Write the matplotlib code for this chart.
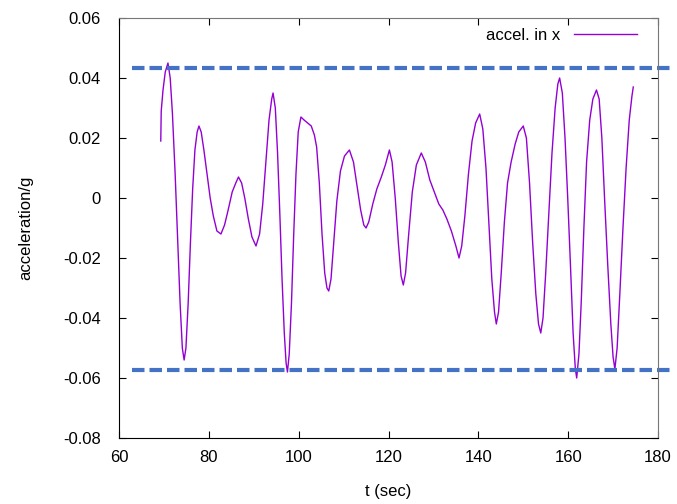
import matplotlib.pyplot as plt

plt.rcParams['font.family'] = ['Liberation Sans', 'DejaVu Sans']

# acceleration trace (time in s, acceleration in g)
t = [69.3, 69.4, 69.8, 70.3, 70.9, 71.4, 71.9, 72.5, 73.1, 73.6, 74.1, 74.5,
     74.9, 75.4, 75.9, 76.4, 76.9, 77.4, 77.8, 78.3, 78.9, 79.6, 80.3, 81.0,
     81.8, 82.7, 83.5, 84.3, 85.2, 86.0, 86.6, 87.3, 88.0, 88.8, 89.6, 90.5,
     91.3, 92.0, 92.7, 93.4, 94.0, 94.3, 94.8, 95.3, 95.8, 96.3, 96.8, 97.2,
     97.5, 97.9, 98.4, 98.9, 99.4, 99.9, 100.5, 101.2, 102.0, 102.8, 103.5,
     104.0, 104.6, 105.2, 105.8, 106.3, 106.7, 107.2, 107.8, 108.5, 109.3,
     110.2, 111.3, 112.2, 113.0, 113.8, 114.5, 115.0, 115.6, 116.5, 117.4,
     118.4, 119.3, 120.2, 120.8, 121.5, 122.2, 122.8, 123.3, 123.8, 124.5,
     125.3, 126.2, 127.3, 128.2, 129.2, 130.2, 131.2, 132.1, 133.0, 134.0,
     135.0, 135.7, 136.3, 137.0, 137.8, 138.6, 139.4, 140.3, 141.0, 141.7,
     142.4, 143.0, 143.6, 144.0, 144.5, 145.1, 145.8, 146.5, 147.3, 148.2,
     149.0, 150.0, 150.7, 151.4, 152.1, 152.8, 153.4, 153.9, 154.4, 155.0,
     155.7, 156.4, 157.1, 157.7, 158.1, 158.7, 159.3, 159.9, 160.5, 161.1,
     161.6, 161.9, 162.4, 162.9, 163.5, 164.1, 164.8, 165.5, 166.3, 166.9,
     167.5, 168.1, 168.8, 169.5, 170.0, 170.4, 170.9, 171.5, 172.2, 172.9,
     173.6, 174.2, 174.5]
accel = [0.019, 0.029, 0.036, 0.042, 0.045, 0.040, 0.028, 0.008, -0.015, -0.035, -0.050, -0.054,
         -0.050, -0.035, -0.015, 0.003, 0.016, 0.022, 0.024, 0.022, 0.016, 0.008, 0.000, -0.006,
         -0.011, -0.012, -0.009, -0.004, 0.002, 0.005, 0.007, 0.005, 0.000, -0.007, -0.013, -0.016,
         -0.012, -0.002, 0.012, 0.026, 0.033, 0.035, 0.030, 0.015, -0.005, -0.027, -0.045, -0.055,
         -0.058, -0.052, -0.035, -0.012, 0.008, 0.022, 0.027, 0.026, 0.025, 0.024, 0.021,
         0.017, 0.005, -0.012, -0.025, -0.030, -0.031, -0.027, -0.015, -0.001, 0.009,
         0.014, 0.016, 0.012, 0.004, -0.004, -0.009, -0.010, -0.008, -0.002, 0.003,
         0.007, 0.011, 0.016, 0.012, 0.000, -0.015, -0.026, -0.029, -0.025, -0.012,
         0.002, 0.011, 0.015, 0.012, 0.006, 0.002, -0.002, -0.004, -0.007, -0.011,
         -0.016, -0.020, -0.016, -0.006, 0.008, 0.019, 0.025, 0.028, 0.023, 0.010,
         -0.010, -0.027, -0.038, -0.042, -0.038, -0.025, -0.008, 0.005, 0.012, 0.018,
         0.022, 0.024, 0.020, 0.005, -0.015, -0.032, -0.042, -0.045, -0.040, -0.025,
         -0.005, 0.015, 0.030, 0.038, 0.040, 0.035, 0.020, 0.000, -0.022, -0.045,
         -0.057, -0.060, -0.052, -0.035, -0.010, 0.012, 0.026, 0.033, 0.036, 0.033,
         0.020, 0.000, -0.022, -0.042, -0.053, -0.057, -0.050, -0.032, -0.010, 0.010,
         0.026, 0.034, 0.037]

# limit lines
upper_limit = 0.0432
lower_limit = -0.0572
limit_span = [62.9, 182.6]

xticks = [60, 80, 100, 120, 140, 160, 180]
yticks = [-0.08, -0.06, -0.04, -0.02, 0, 0.02, 0.04, 0.06]
ytick_labels = ['-0.08', '-0.06', '-0.04', '-0.02', '0', '0.02', '0.04', '0.06']

fig = plt.figure(figsize=(6.77, 5.04), dpi=100)
ax = fig.add_axes([119 / 677, 66 / 504, 539 / 677, 420 / 504])

ax.plot(t, accel, color='#9400d3', linewidth=1.0, label='accel. in x')
for level in (upper_limit, lower_limit):
    ax.plot(limit_span, [level, level], color='#4472c4', linewidth=3,
            dashes=(3, 1.2), clip_on=False)

ax.set_xlim(60, 180)
ax.set_ylim(-0.08, 0.06)
ax.set_xticks(xticks)
ax.set_yticks(yticks)
ax.set_yticklabels(ytick_labels)
ax.tick_params(direction='in', top=True, right=True, labelsize=12, length=5)
ax.tick_params(axis='y', pad=13)
ax.tick_params(axis='x', pad=9)
for side in ['top', 'right']:
    ax.spines[side].set_color('#777777')

ax.set_xlabel('t (sec)', fontsize=12)
ax.set_ylabel('acceleration/g', fontsize=12)
ax.xaxis.set_label_coords(0.5, -0.11)
ax.yaxis.set_label_coords(-0.16, 0.5)

ax.legend(loc='upper right', frameon=False, markerfirst=False, fontsize=12,
          handlelength=3.8, borderaxespad=0.2, bbox_to_anchor=(0.98, 1.0))

fig.savefig('out.png', dpi=100)
